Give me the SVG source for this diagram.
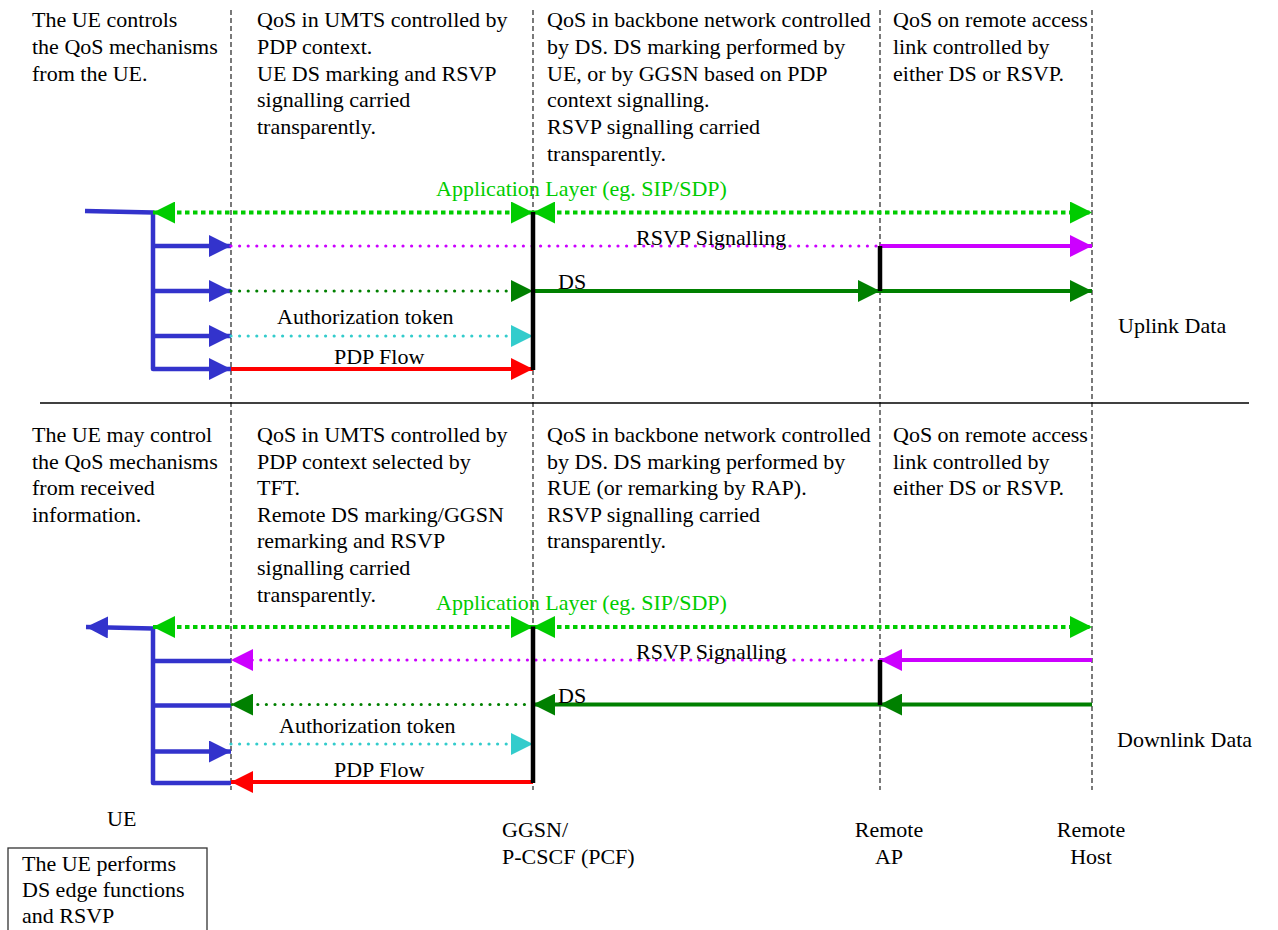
<svg xmlns="http://www.w3.org/2000/svg" width="1278" height="930" viewBox="0 0 1278 930" font-family="'Liberation Serif', 'DejaVu Serif', serif">
<style>
text{font-family:'Liberation Serif','DejaVu Serif',serif;font-size:22px;fill:#000}
.g{fill:#00cc00}
.life{stroke:#333;stroke-width:1.3;stroke-dasharray:5 3;fill:none}
.sep{stroke:#000;stroke-width:1.3}
.c{fill:none;stroke-width:4}
.blue{stroke:#3333cc;stroke-width:4.5;stroke-linejoin:round}
.app{stroke:#00cc00;stroke-dasharray:4.5 3.5}
.dot{stroke-width:3.2;stroke-linecap:round;stroke-dasharray:0 8.6}
.mag{stroke:#cc00ff}
.dg{stroke:#008000}
.cy{stroke:#33cccc}
.red{stroke:#ff0000}
.bar{stroke:#000;stroke-width:4.5}
.box{fill:#fff;stroke:#333;stroke-width:1.3}
</style>
<defs>
<marker id="aB" markerUnits="userSpaceOnUse" markerWidth="22" markerHeight="22" viewBox="0 0 21 21" refX="21" refY="10.5" orient="auto-start-reverse"><path d="M0,0L21,10.5L0,21z" fill="#3333cc"/></marker>
<marker id="aG" markerUnits="userSpaceOnUse" markerWidth="22" markerHeight="22" viewBox="0 0 21 21" refX="21" refY="10.5" orient="auto-start-reverse"><path d="M0,0L21,10.5L0,21z" fill="#00cc00"/></marker>
<marker id="aM" markerUnits="userSpaceOnUse" markerWidth="22" markerHeight="22" viewBox="0 0 21 21" refX="21" refY="10.5" orient="auto-start-reverse"><path d="M0,0L21,10.5L0,21z" fill="#cc00ff"/></marker>
<marker id="aD" markerUnits="userSpaceOnUse" markerWidth="22" markerHeight="22" viewBox="0 0 21 21" refX="21" refY="10.5" orient="auto-start-reverse"><path d="M0,0L21,10.5L0,21z" fill="#008000"/></marker>
<marker id="aC" markerUnits="userSpaceOnUse" markerWidth="22" markerHeight="22" viewBox="0 0 21 21" refX="21" refY="10.5" orient="auto-start-reverse"><path d="M0,0L21,10.5L0,21z" fill="#33cccc"/></marker>
<marker id="aR" markerUnits="userSpaceOnUse" markerWidth="22" markerHeight="22" viewBox="0 0 21 21" refX="21" refY="10.5" orient="auto-start-reverse"><path d="M0,0L21,10.5L0,21z" fill="#ff0000"/></marker>
</defs>
<rect width="1278" height="930" fill="#fff"/>

<g id="ue">
<line class="life" x1="231" y1="10" x2="231" y2="790"/>
<text x="107" y="826">UE</text>
</g>
<g id="ggsn">
<line class="life" x1="533" y1="10" x2="533" y2="790"/>
<text x="502" y="837">GGSN/</text>
<text x="502" y="864">P-CSCF (PCF)</text>
</g>
<g id="remote-ap">
<line class="life" x1="880" y1="10" x2="880" y2="790"/>
<text x="889" y="837" text-anchor="middle">Remote</text>
<text x="889" y="864" text-anchor="middle">AP</text>
</g>
<g id="remote-host">
<line class="life" x1="1092" y1="10" x2="1092" y2="790"/>
<text x="1091" y="837" text-anchor="middle">Remote</text>
<text x="1091" y="864" text-anchor="middle">Host</text>
</g>
<g id="separator">
<line class="sep" x1="40" y1="403" x2="1249" y2="403"/>
</g>

<g id="uplink-notes">
<text x="32" y="27">The UE controls</text>
<text x="32" y="54">the QoS mechanisms</text>
<text x="32" y="80.5">from the UE.</text>
<text x="257" y="27">QoS in UMTS controlled by</text>
<text x="257" y="54">PDP context.</text>
<text x="257" y="80.5">UE DS marking and RSVP</text>
<text x="257" y="107">signalling carried</text>
<text x="257" y="134">transparently.</text>
<text x="547" y="27">QoS in backbone network controlled</text>
<text x="547" y="54">by DS. DS marking performed by</text>
<text x="547" y="80.5">UE, or by GGSN based on PDP</text>
<text x="547" y="107">context signalling.</text>
<text x="547" y="134">RSVP signalling carried</text>
<text x="547" y="160.5">transparently.</text>
<text x="893" y="27">QoS on remote access</text>
<text x="893" y="54">link controlled by</text>
<text x="893" y="80.5">either DS or RSVP.</text>
<text x="1118" y="333">Uplink Data</text>
</g>

<g id="downlink-notes">
<text x="32" y="442">The UE may control</text>
<text x="32" y="468.5">the QoS mechanisms</text>
<text x="32" y="495">from received</text>
<text x="32" y="521.5">information.</text>
<text x="257" y="442">QoS in UMTS controlled by</text>
<text x="257" y="468.5">PDP context selected by</text>
<text x="257" y="495">TFT.</text>
<text x="257" y="521.5">Remote DS marking/GGSN</text>
<text x="257" y="548">remarking and RSVP</text>
<text x="257" y="575">signalling carried</text>
<text x="257" y="601.5">transparently.</text>
<text x="547" y="442">QoS in backbone network controlled</text>
<text x="547" y="468.5">by DS. DS marking performed by</text>
<text x="547" y="495">RUE (or remarking by RAP).</text>
<text x="547" y="521.5">RSVP signalling carried</text>
<text x="547" y="548">transparently.</text>
<text x="893" y="442">QoS on remote access</text>
<text x="893" y="468.5">link controlled by</text>
<text x="893" y="495">either DS or RSVP.</text>
<text x="1117" y="747">Downlink Data</text>
</g>

<g id="ue-box">
<rect class="box" x="8" y="848" width="199" height="95"/>
<text x="22" y="871">The UE performs</text>
<text x="22" y="897">DS edge functions</text>
<text x="22" y="923">and RSVP</text>
</g>

<g id="connectors">
<path class="c blue" d="M85 211 L153 212.5 L153 369 L231 369" marker-end="url(#aB)"/>
<line class="c blue" x1="153" y1="246" x2="231" y2="246" marker-end="url(#aB)"/>
<line class="c blue" x1="153" y1="291" x2="231" y2="291" marker-end="url(#aB)"/>
<line class="c blue" x1="153" y1="336" x2="231" y2="336" marker-end="url(#aB)"/>
<line class="c app" x1="153" y1="212.5" x2="533" y2="212.5" marker-start="url(#aG)" marker-end="url(#aG)"/>
<line class="c app" x1="533" y1="212.5" x2="1092" y2="212.5" marker-start="url(#aG)" marker-end="url(#aG)"/>
<line class="c dot mag" x1="231" y1="246" x2="880" y2="246"/>
<line class="c mag" x1="880" y1="246" x2="1092" y2="246" marker-end="url(#aM)"/>
<line class="c dot dg" x1="231" y1="291" x2="533" y2="291" marker-end="url(#aD)"/>
<line class="c dg" x1="533" y1="291" x2="880" y2="291" marker-end="url(#aD)"/>
<line class="c dg" x1="880" y1="291" x2="1092" y2="291" marker-end="url(#aD)"/>
<line class="c dot cy" x1="231" y1="336" x2="533" y2="336" marker-end="url(#aC)"/>
<line class="c red" x1="231" y1="369" x2="533" y2="369" marker-end="url(#aR)"/>
<line class="bar" x1="533" y1="212" x2="533" y2="370"/>
<line class="bar" x1="880" y1="246" x2="880" y2="291"/>
<path class="c blue" d="M86 627 L153 628.5 L153 783 L231 783" marker-start="url(#aB)"/>
<line class="c blue" x1="153" y1="661" x2="231" y2="661"/>
<line class="c blue" x1="153" y1="705.5" x2="231" y2="705.5"/>
<line class="c blue" x1="153" y1="751.5" x2="231" y2="751.5" marker-end="url(#aB)"/>
<line class="c app" x1="153" y1="627" x2="533" y2="627" marker-start="url(#aG)" marker-end="url(#aG)"/>
<line class="c app" x1="533" y1="627" x2="1092" y2="627" marker-start="url(#aG)" marker-end="url(#aG)"/>
<line class="c mag" x1="1092" y1="660" x2="880" y2="660" marker-end="url(#aM)"/>
<line class="c dot mag" x1="880" y1="660" x2="231" y2="660" marker-end="url(#aM)"/>
<line class="c dg" x1="1092" y1="704.5" x2="880" y2="704.5" marker-end="url(#aD)"/>
<line class="c dg" x1="880" y1="704.5" x2="533" y2="704.5" marker-end="url(#aD)"/>
<line class="c dot dg" x1="533" y1="704.5" x2="231" y2="704.5" marker-end="url(#aD)"/>
<line class="c dot cy" x1="231" y1="744" x2="533" y2="744" marker-end="url(#aC)"/>
<line class="c red" x1="533" y1="782" x2="231" y2="782" marker-end="url(#aR)"/>
<line class="bar" x1="533" y1="626.5" x2="533" y2="783"/>
<line class="bar" x1="880" y1="660" x2="880" y2="705"/>
</g>

<g id="flow-labels">
<text class="g" x="436" y="196">Application Layer (eg. SIP/SDP)</text>
<text x="636" y="245">RSVP Signalling</text>
<text x="558" y="289">DS</text>
<text x="277" y="324">Authorization token</text>
<text x="334" y="364">PDP Flow</text>
<text class="g" x="436" y="610">Application Layer (eg. SIP/SDP)</text>
<text x="636" y="659">RSVP Signalling</text>
<text x="558" y="703">DS</text>
<text x="279" y="733">Authorization token</text>
<text x="334" y="777">PDP Flow</text>
</g>
</svg>
